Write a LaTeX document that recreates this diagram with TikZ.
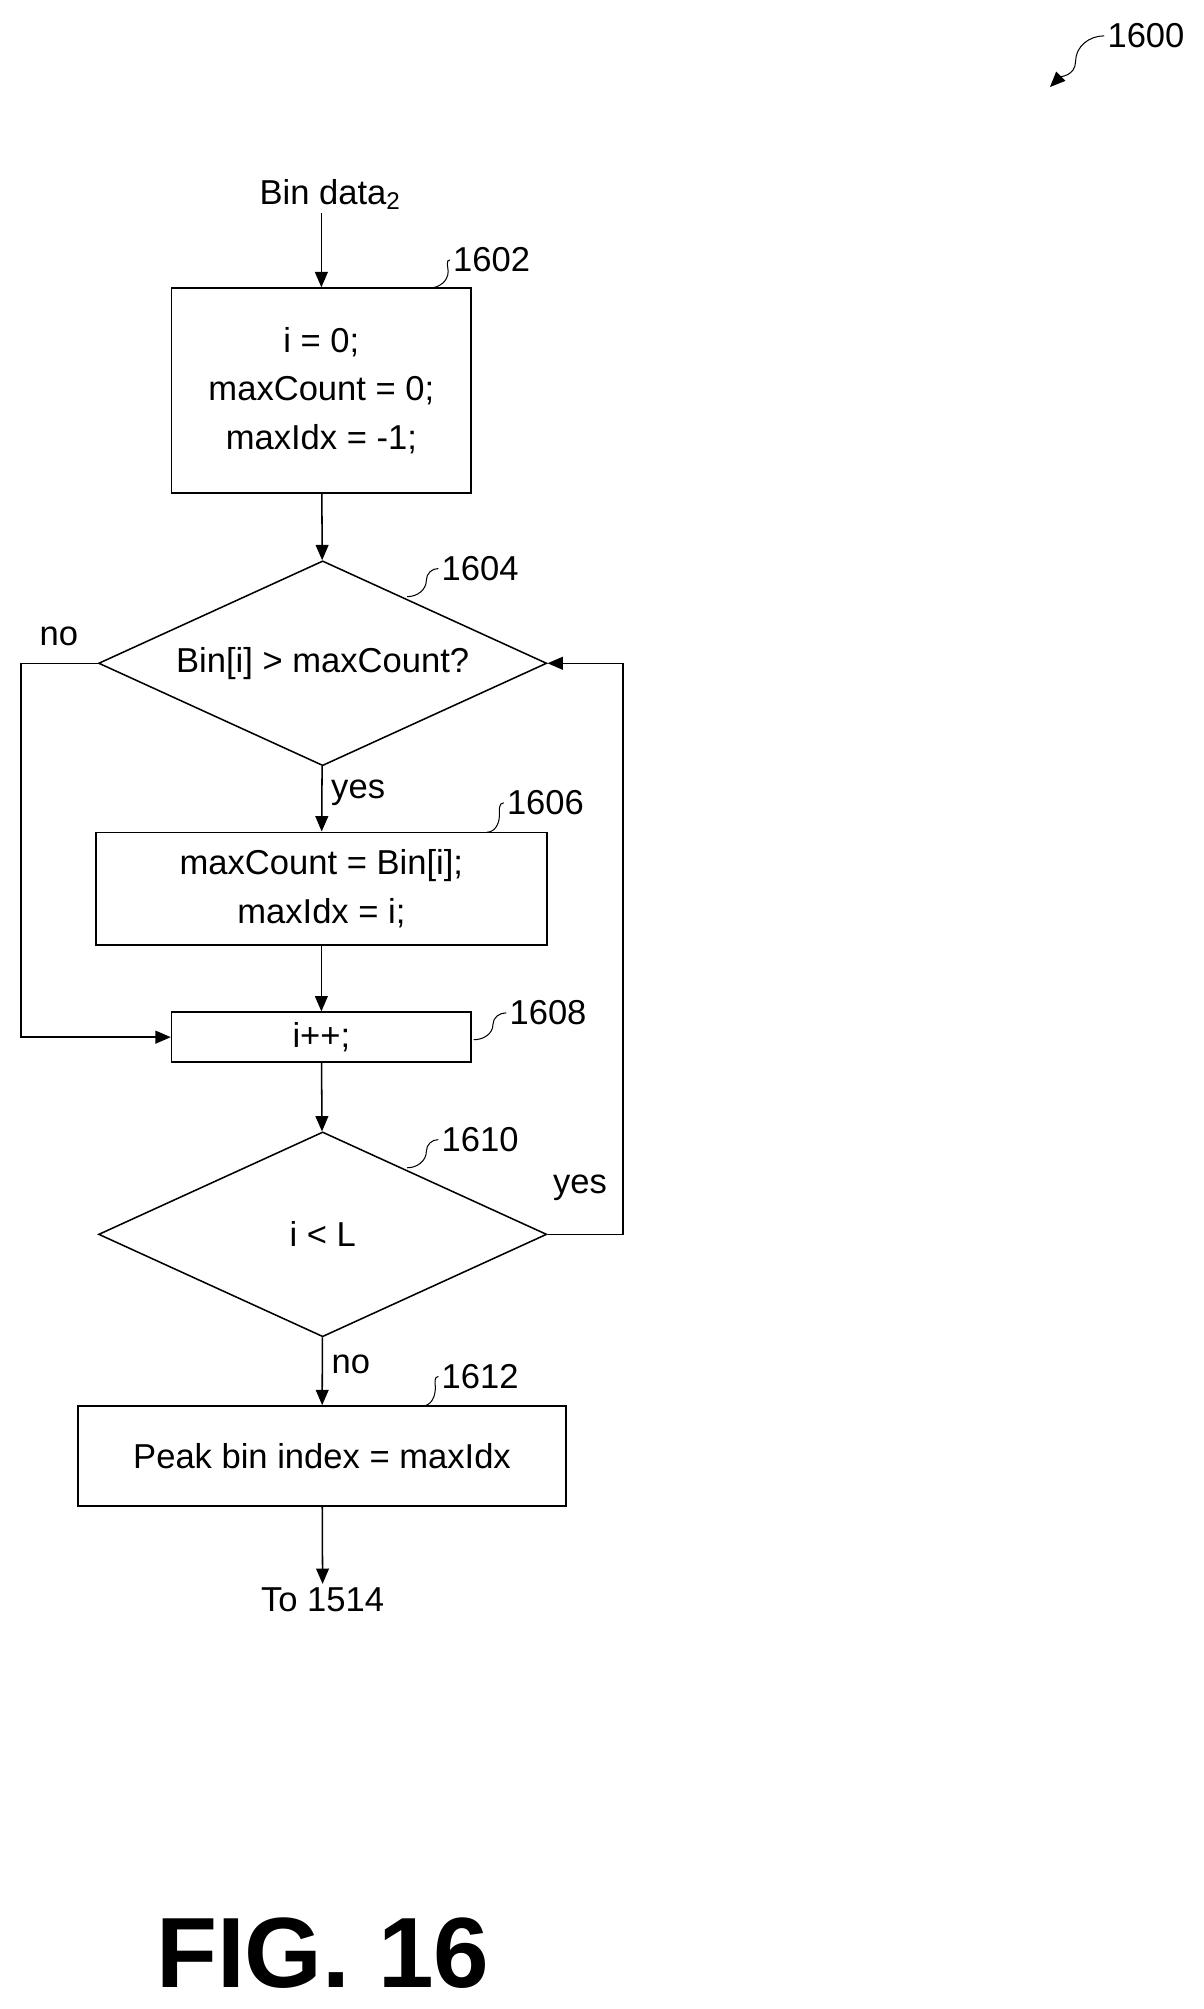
\documentclass[tikz,border=0pt]{standalone}
\usepackage{fontspec}
\setmainfont{Liberation Sans}
\usetikzlibrary{arrows.meta,shapes.geometric,positioning}

\begin{document}
\begin{tikzpicture}[x=0.5pt,y=-0.5pt,>={Triangle[length=6pt,width=5pt]},semithick,
  font=\fontsize{13.5}{19}\selectfont,
  box/.style={draw,rectangle,inner sep=0pt,align=center},
  dec/.style={draw,diamond,inner sep=0pt,minimum width=175pt,minimum height=80pt,aspect=2.19},
  ref/.style={thin},
  lab/.style={inner sep=1pt}]
\useasboundingbox (0,0) rectangle (940,1569);

  \node[lab]  (in)   at (258,152)  {Bin data\textsubscript{2}};
  \node[box,minimum width=117pt,minimum height=80pt] (A) at (251,305)
        {i = 0;\\maxCount = 0;\\maxIdx = -1;};
  \node[dec]  (B)    at (252,518)  {Bin[i] > maxCount?};
  \node[box,minimum width=176pt,minimum height=44pt] (C) at (251,694)
        {maxCount = Bin[i];\\maxIdx = i;};
  \node[box,minimum width=117pt,minimum height=19.5pt] (D) at (251,810) {i++;};
  \node[dec]  (E)    at (252,964)  {i < L};
  \node[box,minimum width=190.5pt,minimum height=39pt] (F) at (251.5,1137)
        {Peak bin index = maxIdx};
  \node[lab]  (out)  at (252,1249) {To 1514};

  \draw[->] (A.north |- in.south) -- (A.north);
  \draw[->] (A) -- (B);
  \draw[->] (B) -- node[right,pos=0.4] {yes} (C);
  \draw[->] (C) -- (D);
  \draw[->] (D) -- (E);
  \draw[->] (E) -- node[right,pos=0.4] {no} (F);
  \draw[->] (F) -- (out);
  \draw[->] (B.west) -- ++(-60,0) coordinate (nl) |- (D.west);
  \draw[->] (E.east) -- ++(59,0) coordinate (yr) |- (B.east);
  \node[lab] (no1)  at (46,497)  {no};
  \node[lab] (yes2) at (453,928) {yes};

  % reference numerals
  \node[lab] (r1600) at (895,28)   {1600};
  \node[lab] (r1602) at (384,203)  {1602};
  \node[lab] (r1604) at (375,444)  {1604};
  \node[lab] (r1606) at (426,627)  {1606};
  \node[lab] (r1608) at (428,791)  {1608};
  \node[lab] (r1610) at (375,890)  {1610};
  \node[lab] (r1612) at (375,1075) {1612};
  \draw[ref] (335,225) to[out=0,in=-90] (350,212) to[out=90,in=180] (r1602.west);
  \draw[ref] (318,466) to[out=0,in=-90] (333,453) to[out=90,in=180] (r1604.west);
  \draw[ref] (380,650) to[out=0,in=-90] (390,637) to[out=90,in=180] (r1606.west);
  \draw[ref] (370,812) to[out=0,in=-90] (385,800) to[out=90,in=180] (r1608.west);
  \draw[ref] (318,912) to[out=0,in=-90] (333,899) to[out=90,in=180] (r1610.west);
  \draw[ref] (330,1098) to[out=0,in=-90] (340,1084) to[out=90,in=180] (r1612.west);
  \draw[ref,->] (r1600.west) to[out=180,in=90] (840,48) to[out=-90,in=45] (820,68);

  \node[lab,font=\fontsize{39}{40}\selectfont\bfseries] (fig) at (252,1525) {FIG. 16};
\end{tikzpicture}
\end{document}
